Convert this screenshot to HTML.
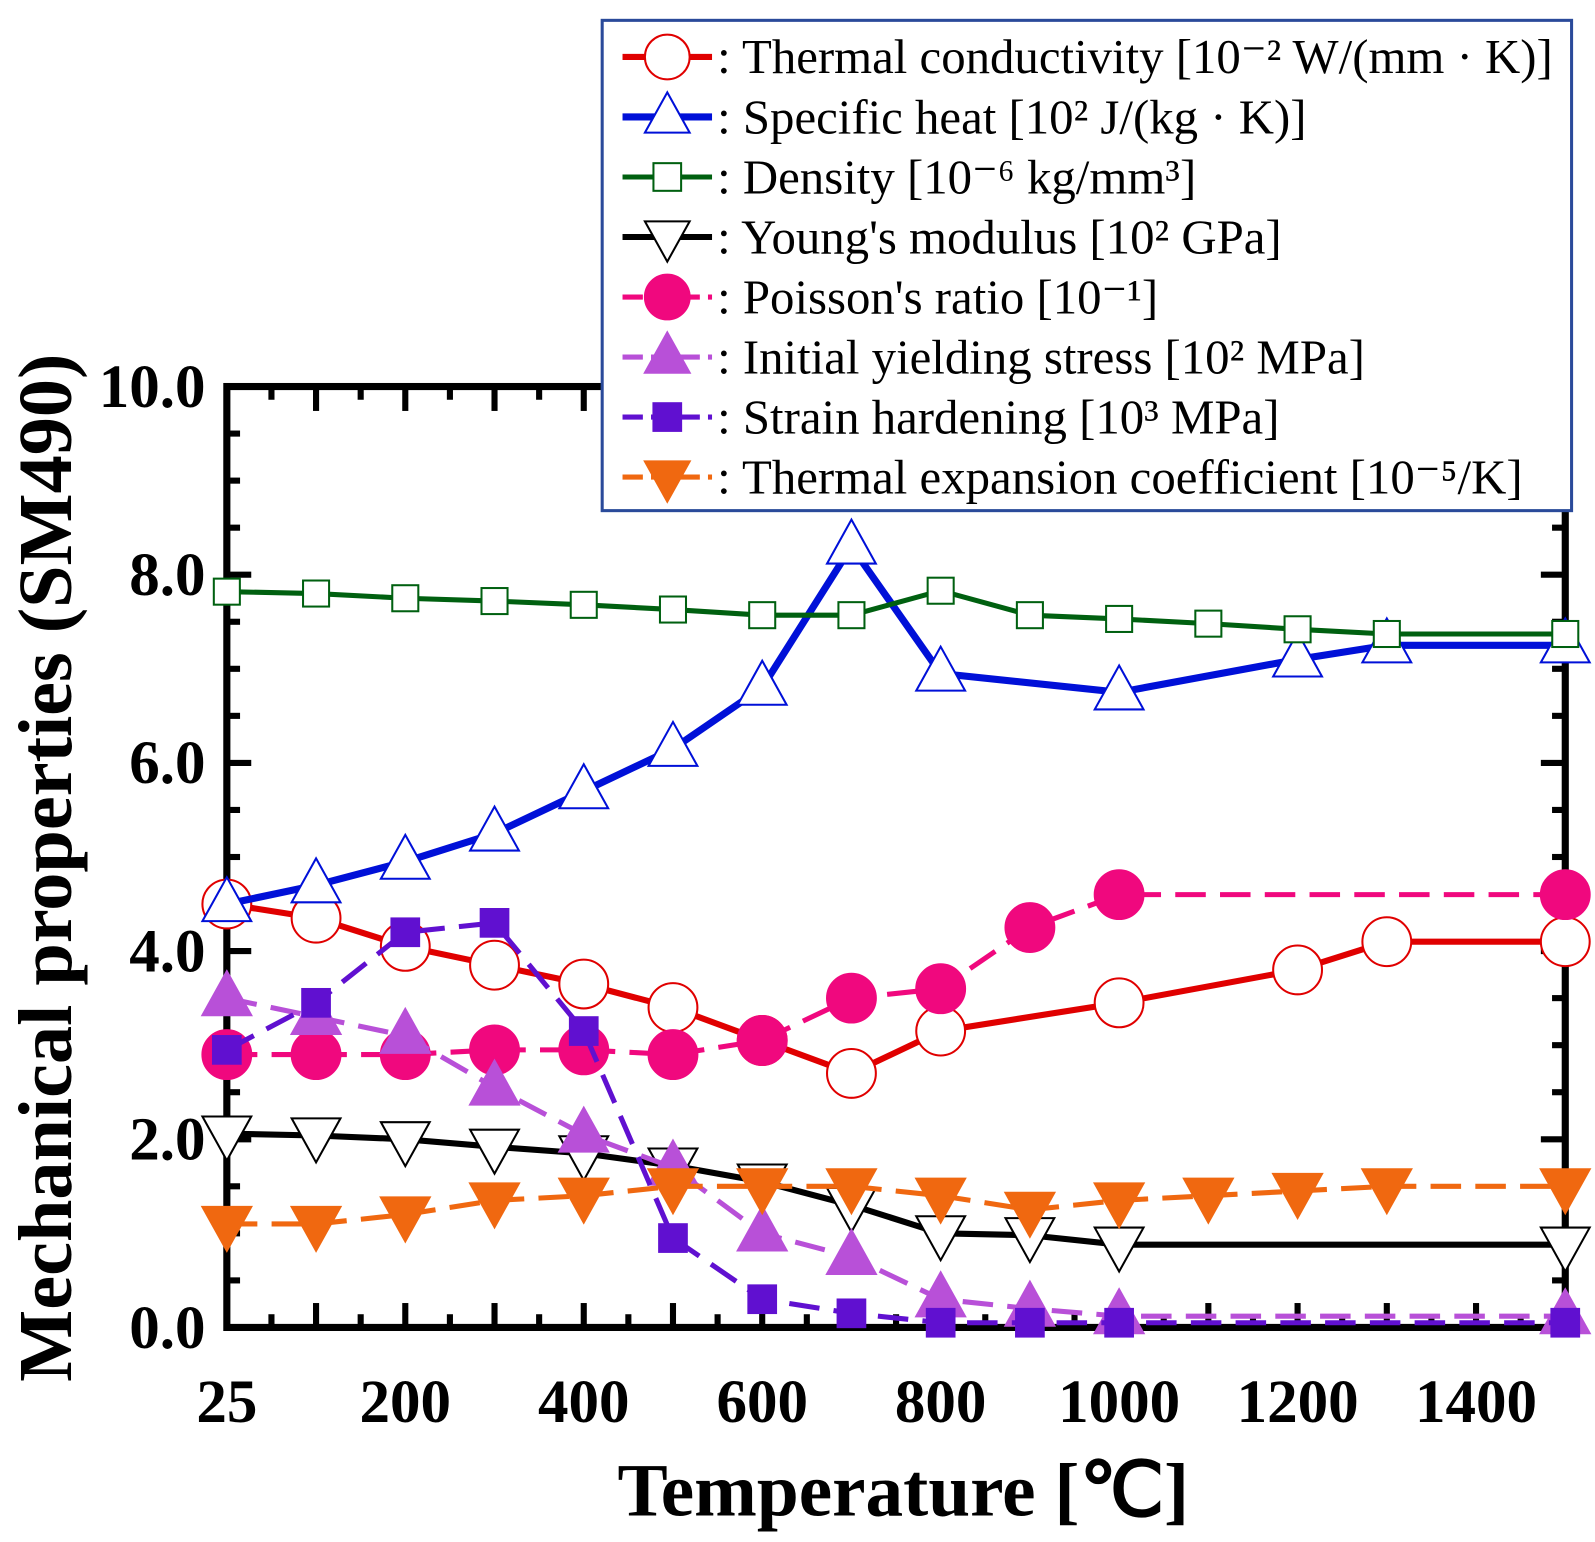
<!DOCTYPE html>
<html><head><meta charset="utf-8"><style>
body{margin:0;background:#fff;}
svg{display:block;font-family:"Liberation Serif",serif;}
</style></head><body>
<svg id="chart" width="1595" height="1542" viewBox="0 0 1595 1542" xmlns="http://www.w3.org/2000/svg">
<g transform="scale(1.0172)">
<g id="axes"></g>
<g id="series"></g>
<g id="legend"></g>
</g>
</svg>
<script>
const temps = [0,100,200,300,400,500,600,700,800,900,1000,1100,1200,1300,1500];
const xTickVals = [0,200,400,600,800,1000,1200,1400];
const xTickLabels = ["25","200","400","600","800","1000","1200","1400"];
const yTickVals = [0,2,4,6,8,10];
const yTickLabels = ["0.0","2.0","4.0","6.0","8.0","10.0"];
const thermalCond = [4.5,4.35,4.05,3.85,3.65,3.4,3.05,2.7,3.15,null,3.45,null,3.8,4.1,4.1];
const specificHeat = [4.5,4.7,4.95,5.25,5.7,6.15,6.8,8.3,6.95,null,6.75,null,7.1,7.25,7.25];
const density = [7.82,7.8,7.75,7.72,7.68,7.63,7.57,7.57,7.83,7.57,7.53,7.48,7.42,7.37,7.37];
const youngs = [2.06,2.04,2.0,1.92,1.85,1.72,1.55,1.3,1.0,0.98,0.88,null,null,null,0.88];
const poisson = [2.9,2.9,2.9,2.95,2.95,2.9,3.05,3.5,3.6,4.25,4.6,null,null,null,4.6];
const yieldStress = [3.5,3.3,3.1,2.55,2.05,1.7,1.0,0.75,0.3,0.2,0.12,null,null,null,0.12];
const strainHard = [2.95,3.45,4.2,4.3,3.15,0.95,0.3,0.15,0.05,0.05,0.05,null,null,null,0.05];
const thermalExp = [1.1,1.1,1.2,1.35,1.4,1.5,1.5,1.5,1.4,1.25,1.35,1.4,1.45,1.5,1.5];

const X0=223, XS=0.8772, Y0=1305, YS=92.5;
const xs = t => X0 + t*XS;
const ys = v => Y0 - v*YS;
const NS="http://www.w3.org/2000/svg";
function mk(tag, attrs, parent){const e=document.createElementNS(NS,tag);for(const k in attrs)e.setAttribute(k,attrs[k]);parent.appendChild(e);return e;}
const axes=document.getElementById('axes'), ser=document.getElementById('series'), leg=document.getElementById('legend');

const frame=mk('rect',{x:X0,y:ys(10),width:xs(1500)-X0,height:Y0-ys(10),fill:'none',stroke:'#000','stroke-width':7},axes);


for(let t=0;t<=1500;t+=50){
  const L=(t%100===0)?24:13;
  const a=mk('line',{x1:xs(t),x2:xs(t),y1:Y0,y2:Y0-L,stroke:'#000','stroke-width':6},axes);
  
  
  const b=mk('line',{x1:xs(t),x2:xs(t),y1:ys(10),y2:ys(10)+L,stroke:'#000','stroke-width':6},axes);
  
  
}
for(let v=0;v<=10.001;v+=0.5){
  const L=(Math.abs(v%2)<0.01)?24:13;
  const a=mk('line',{x1:X0,x2:X0+L,y1:ys(v),y2:ys(v),stroke:'#000','stroke-width':6},axes);
  
  
  const b=mk('line',{x1:xs(1500),x2:xs(1500)-L,y1:ys(v),y2:ys(v),stroke:'#000','stroke-width':6},axes);
  
  
}
xTickVals.forEach((t,i)=>{
  const e=mk('text',{x:xs(t),y:1398,'text-anchor':'middle','font-size':60,'font-weight':'bold'},axes);
  e.textContent=xTickLabels[i];
  
  
});
yTickVals.forEach((v,i)=>{
  const e=mk('text',{x:202,y:ys(v)+20,'text-anchor':'end','font-size':60,'font-weight':'bold'},axes);
  e.textContent=yTickLabels[i];
  
  
});
const xt=mk('text',{x:888,y:1490,'text-anchor':'middle','font-size':74,'font-weight':'bold'},axes);
xt.textContent='Temperature [℃]';


const yt=mk('text',{x:0,y:0,'text-anchor':'middle','font-size':75,'font-weight':'bold',transform:'translate(70,853) rotate(-90)'},axes);
yt.textContent='Mechanical properties (SM490)';



function marker(g,shape,cx,cy,r,fill,stroke){
  let e;
  if(shape==='circle') e=mk('circle',{cx,cy,r,fill,stroke,'stroke-width':2},g);
  else if(shape==='square') e=mk('rect',{x:cx-r*0.8,y:cy-r*0.8,width:r*1.6,height:r*1.6,fill,stroke,'stroke-width':2},g);
  else if(shape==='up') e=mk('polygon',{points:`${cx},${cy-r*1.1} ${cx-r},${cy+r*0.7} ${cx+r},${cy+r*0.7}`,fill,stroke,'stroke-width':2},g);
  else e=mk('polygon',{points:`${cx},${cy+r*1.1} ${cx-r},${cy-r*0.7} ${cx+r},${cy-r*0.7}`,fill,stroke,'stroke-width':2},g);
  return e;
}
const seriesDefs=[
 {name:'thermal-conductivity',data:thermalCond,color:'#e00000',shape:'circle',open:true,dash:null,w:6,r:24,label:': Thermal conductivity [10⁻² W/(mm · K)]'},
 {name:'specific-heat',data:specificHeat,color:'#0010d8',shape:'up',open:true,dash:null,w:7,r:24,label:': Specific heat [10² J/(kg · K)]'},
 {name:'density',data:density,color:'#006010',shape:'square',open:true,dash:null,w:5,r:16,label:': Density [10⁻⁶ kg/mm³]'},
 {name:'youngs-modulus',data:youngs,color:'#000',shape:'down',open:true,dash:null,w:6,r:24,label:": Young's modulus [10² GPa]"},
 {name:'poissons-ratio',data:poisson,color:'#f0087e',shape:'circle',open:false,dash:'30,14',w:5,r:24,label:": Poisson's ratio [10⁻¹]"},
 {name:'initial-yielding-stress',data:yieldStress,color:'#b850d8',shape:'up',open:false,dash:'30,14',w:5,r:24,label:': Initial yielding stress [10² MPa]'},
 {name:'strain-hardening',data:strainHard,color:'#6010d0',shape:'square',open:false,dash:'30,14',w:5,r:17,label:': Strain hardening [10³ MPa]'},
 {name:'thermal-expansion',data:thermalExp,color:'#f06810',shape:'down',open:false,dash:'30,14',w:5,r:24,label:': Thermal expansion coefficient [10⁻⁵/K]'}
];
seriesDefs.forEach(s=>{
  const g=mk('g',{},ser);
  
  
  const pts=[];
  temps.forEach((t,i)=>{if(s.data[i]!=null)pts.push([xs(t),ys(s.data[i])]);});
  const p=mk('polyline',{points:pts.map(q=>q.join(',')).join(' '),fill:'none',stroke:s.color,'stroke-width':s.w},g);
  if(s.dash)p.setAttribute('stroke-dasharray',s.dash);
  
  
  pts.forEach(q=>{
    const m=marker(g,s.shape,q[0],q[1],s.r,s.open?'#fff':s.color,s.color);
    
    
  });
});
const lb=mk('rect',{x:592,y:20,width:953,height:482,fill:'#fff',stroke:'#2a4a9a','stroke-width':3},leg);


seriesDefs.forEach((s,i)=>{
  const y=56+i*59;
  const g=mk('g',{},leg);
  
  
  const l=mk('line',{x1:612,x2:700,y1:y,y2:y,stroke:s.color,'stroke-width':s.w},g);
  if(s.dash)l.setAttribute('stroke-dasharray','20,8');
  marker(g,s.shape,656,y,s.shape==='square'?17:22,s.open?'#fff':s.color,s.color);
  const t=mk('text',{x:705,y:y+16,'font-size':48},g);
  t.textContent=s.label;
});
</script>
</body></html>
